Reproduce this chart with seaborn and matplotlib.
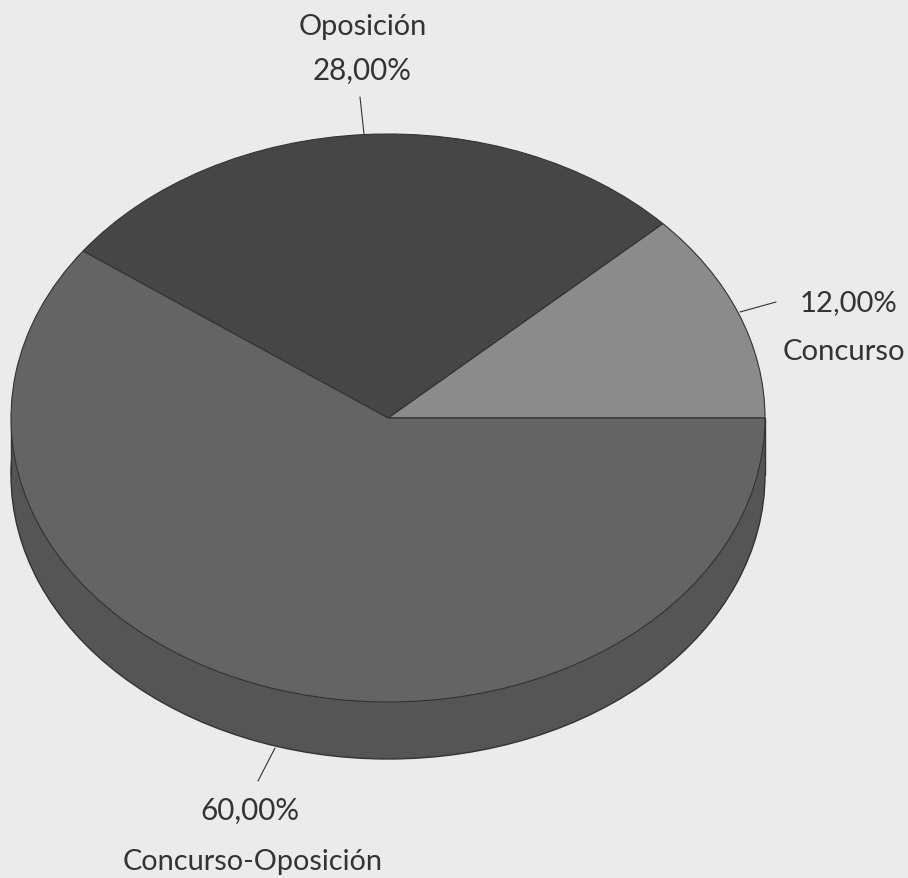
import matplotlib
matplotlib.use("Agg")
import matplotlib.pyplot as plt
from matplotlib.patches import Rectangle
import seaborn as sns

# Data
categories = ["Concurso", "Oposición", "Concurso-Oposición"]
values = [12.00, 28.00, 60.00]
value_labels = ["12,00%", "28,00%", "60,00%"]

# Styles
BG = "#ebebeb"
slice_colors = ["#8b8b8b", "#464646", "#646464"]
SIDE = "#555555"
EDGE = "#333333"
TXT = "#333333"
FONT = "Lato"

W, H = 908, 879
CX, CY, RX, RY, DEPTH = 388, 419, 377, 284, 57

sns.set_theme(style="white")
plt.rcParams["font.family"] = [FONT, "DejaVu Sans"]

fig = plt.figure(figsize=(W / 100, H / 100), dpi=100, facecolor=BG)
ax = fig.add_axes([0, 0, 1, 1])
ax.set_facecolor(BG)

d = DEPTH / RY
# extruded side
ax.pie([1], radius=1, center=(0, -d), colors=[SIDE],
       wedgeprops=dict(edgecolor=EDGE, linewidth=1.0))
ax.add_patch(Rectangle((-1, -d), 2, d, facecolor=SIDE, edgecolor="none", zorder=1.5))
ax.plot([-1, -1], [-d, 0], color=EDGE, lw=1.0, zorder=1.6)
ax.plot([1, 1], [-d, 0], color=EDGE, lw=1.0, zorder=1.6)
# top face
wedges, _ = ax.pie(values, radius=1, startangle=0, counterclock=True, colors=slice_colors,
                   wedgeprops=dict(edgecolor=EDGE, linewidth=0.8))
for w in wedges:
    w.set_zorder(3)
ax.set_aspect("auto")
ax.set_xlim(-CX / RX, (W - CX) / RX)
ax.set_ylim(-(H - CY) / RY, CY / RY)
ax.axis("off")

# pixel overlay for labels and leader lines
ov = fig.add_axes([0, 0, 1, 1], facecolor="none")
ov.set_xlim(0, W)
ov.set_ylim(H, 0)
ov.axis("off")

FS = 20.8
ov.text(363, 27, categories[1], fontsize=FS, color=TXT, ha="center", va="center")
ov.text(362, 71, value_labels[1], fontsize=FS + 0.5, color=TXT, ha="center", va="center")
ov.text(849, 303, value_labels[0], fontsize=FS + 0.3, color=TXT, ha="center", va="center")
ov.text(844, 352, categories[0], fontsize=FS + 0.3, color=TXT, ha="center", va="center")
ov.text(250, 811, value_labels[2], fontsize=FS + 0.5, color=TXT, ha="center", va="center")
ov.text(253, 862, categories[2], fontsize=FS, color=TXT, ha="center", va="center")

LW = 0.8
ov.plot([360, 364], [98, 135], color=EDGE, lw=LW)
ov.plot([776, 740], [303, 313], color=EDGE, lw=LW)
ov.plot([275, 258], [749, 782], color=EDGE, lw=LW)

fig.savefig("out.png", dpi=100, facecolor=BG)
